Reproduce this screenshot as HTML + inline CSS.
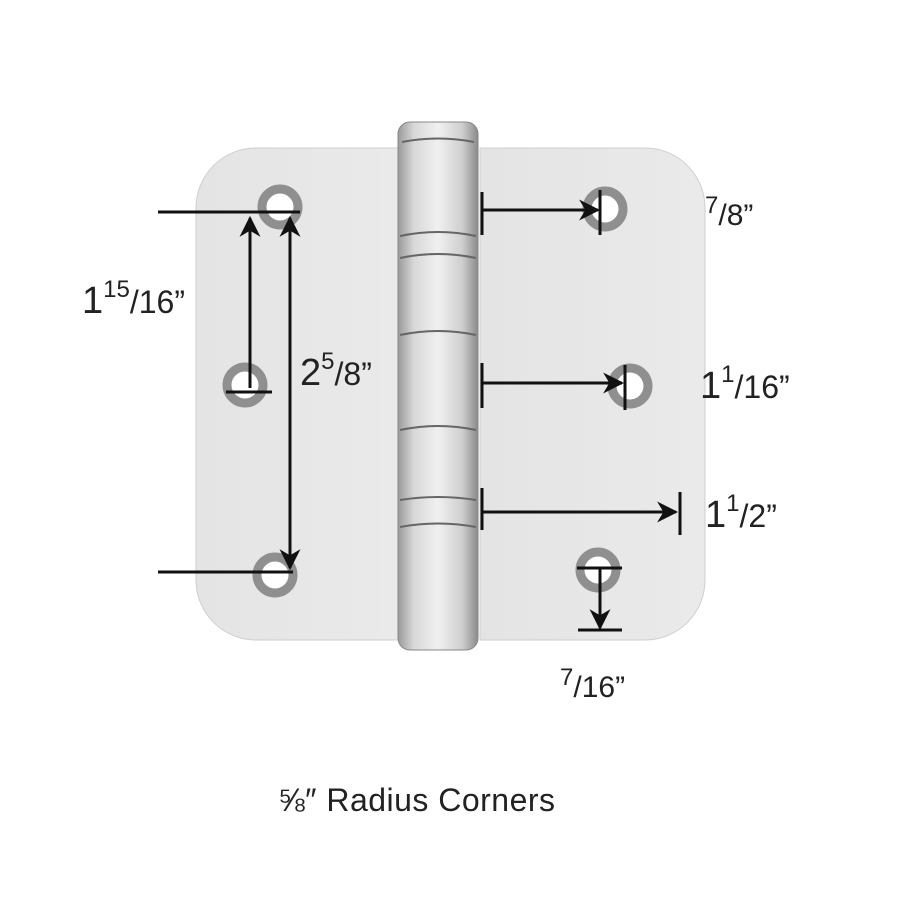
<!DOCTYPE html>
<html><head><style>body{margin:0;background:#fff}svg{display:block}text{font-family:"Liberation Sans",sans-serif;fill:#222}</style></head><body>
<svg width="900" height="901" viewBox="0 0 900 901" xmlns="http://www.w3.org/2000/svg">
<defs>
<linearGradient id="pl" x1="0" x2="1"><stop offset="0" stop-color="#e4e4e4"/><stop offset="1" stop-color="#eaeaea"/></linearGradient>
<linearGradient id="br" x1="0" x2="1"><stop offset="0" stop-color="#9a9a9a"/><stop offset=".2" stop-color="#d8d8d8"/><stop offset=".5" stop-color="#f0f0f0"/><stop offset=".8" stop-color="#cfcfcf"/><stop offset="1" stop-color="#8a8a8a"/></linearGradient>
<marker id="a" viewBox="0 0 10 10" refX="9" refY="5" markerWidth="7" markerHeight="7" orient="auto-start-reverse"><path d="M0,0 L10,5 L0,10 L3,5z" fill="#111"/></marker>
</defs>
<path d="M256,148 H400 V640 H256 A60,60 0 0 1 196,580 V208 A60,60 0 0 1 256,148Z" fill="url(#pl)" stroke="#cfcfcf"/>
<path d="M480,148 H645 A60,60 0 0 1 705,208 V580 A60,60 0 0 1 645,640 H480Z" fill="url(#pl)" stroke="#cfcfcf"/>
<rect x="398" y="122" width="80" height="528" rx="12" fill="url(#br)" stroke="#888"/>
<g stroke="#666" stroke-width="2" fill="none">
<path d="M400,236 Q438,228 476,236"/><path d="M400,258 Q438,250 476,258"/>
<path d="M400,335 Q438,327 476,335"/><path d="M400,430 Q438,422 476,430"/>
<path d="M400,500 Q438,494 476,500"/><path d="M400,527 Q438,520 476,527"/>
<path d="M402,142 Q438,135 474,142"/>
</g>
<g fill="#fff" stroke="#8f8f8f" stroke-width="9">
<circle cx="280" cy="207" r="18"/><circle cx="245" cy="385" r="18"/><circle cx="275" cy="575" r="18"/>
<circle cx="605" cy="209" r="18"/><circle cx="630" cy="386" r="18"/><circle cx="598" cy="570" r="18"/>
</g>
<g stroke="#111" stroke-width="3" fill="none">
<line x1="158" y1="212" x2="300" y2="212"/><line x1="158" y1="572" x2="293" y2="572"/>
<line x1="250" y1="218" x2="250" y2="388" marker-start="url(#a)"/>
<line x1="290" y1="218" x2="290" y2="568" marker-start="url(#a)" marker-end="url(#a)"/>
<line x1="226" y1="392" x2="272" y2="392"/>
<line x1="482" y1="192" x2="482" y2="235"/><line x1="482" y1="210" x2="598" y2="210" marker-end="url(#a)"/><line x1="600" y1="190" x2="600" y2="235"/>
<line x1="482" y1="363" x2="482" y2="408"/><line x1="482" y1="383" x2="622" y2="383" marker-end="url(#a)"/><line x1="625" y1="365" x2="625" y2="410"/>
<line x1="482" y1="488" x2="482" y2="530"/><line x1="482" y1="512" x2="676" y2="512" marker-end="url(#a)"/><line x1="680" y1="492" x2="680" y2="535"/>
<line x1="577" y1="568" x2="622" y2="568"/><line x1="600" y1="568" x2="600" y2="628" marker-end="url(#a)"/><line x1="578" y1="630" x2="622" y2="630"/>
</g>
<text x="82" y="313" font-size="38">1<tspan font-size="24" dy="-16">15</tspan><tspan font-size="32" dy="16">/16”</tspan></text>
<text x="300" y="385" font-size="38">2<tspan font-size="24" dy="-16">5</tspan><tspan font-size="32" dy="16">/8”</tspan></text>
<text x="705" y="225" font-size="30"><tspan font-size="24" dy="-12">7</tspan><tspan dy="12">/8”</tspan></text>
<text x="700" y="398" font-size="38">1<tspan font-size="24" dy="-16">1</tspan><tspan font-size="32" dy="16">/16”</tspan></text>
<text x="705" y="527" font-size="38">1<tspan font-size="24" dy="-16">1</tspan><tspan font-size="32" dy="16">/2”</tspan></text>
<text x="560" y="697" font-size="30"><tspan font-size="24" dy="-12">7</tspan><tspan dy="12">/16”</tspan></text>
<text x="278" y="811" font-size="32" textLength="277">⅝″ Radius Corners</text>
</svg>
</body></html>
